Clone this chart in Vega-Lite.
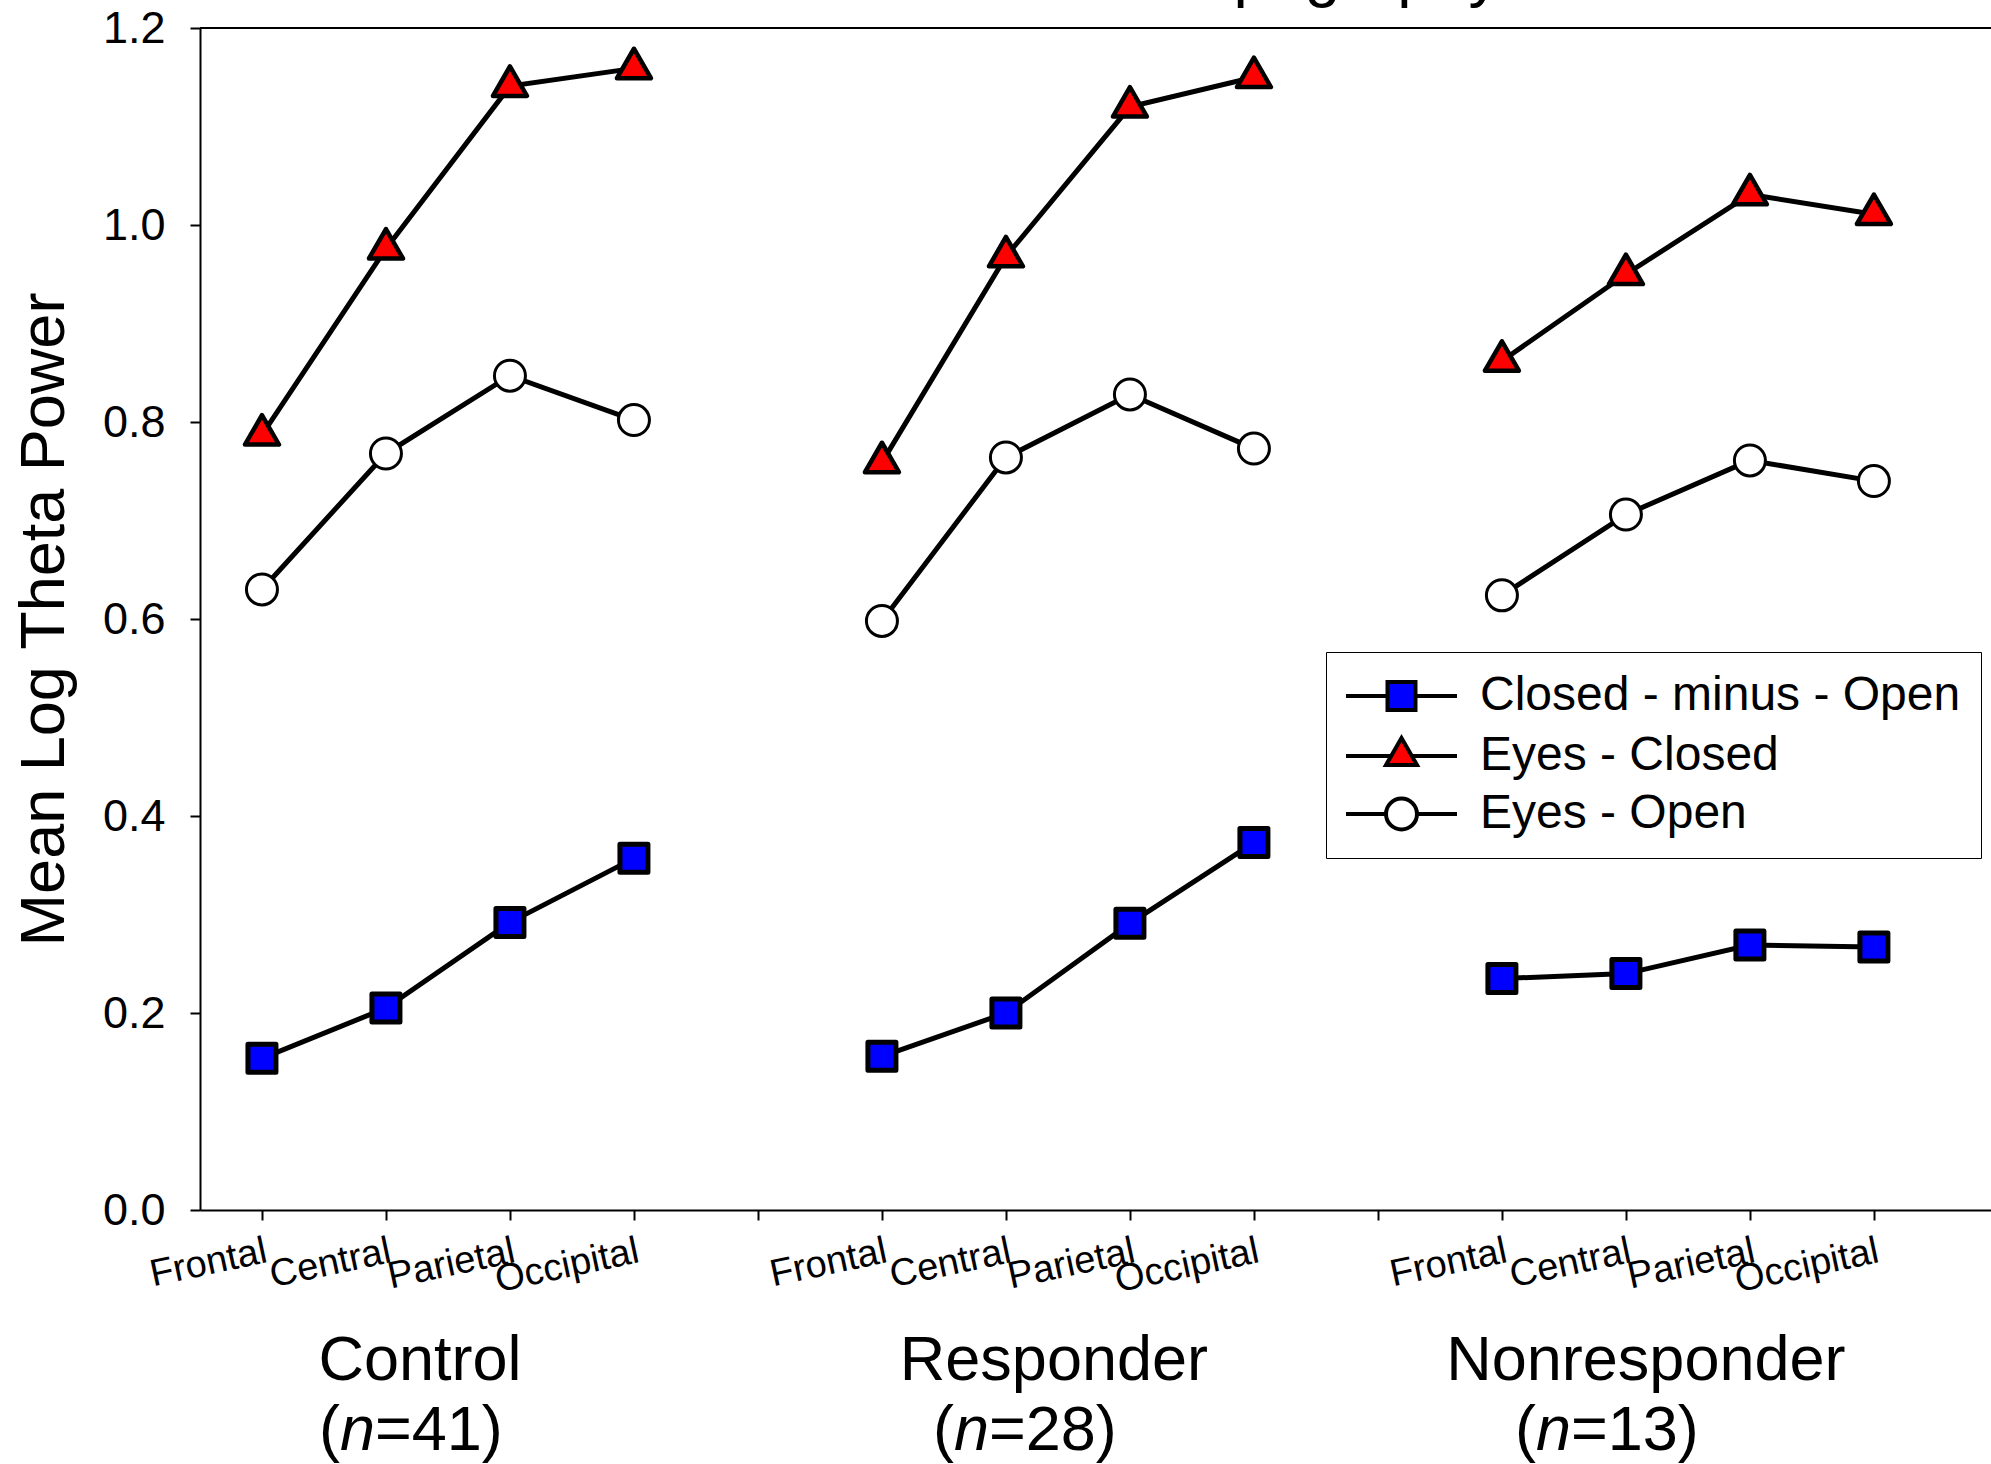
{
  "$schema": "https://vega.github.io/schema/vega-lite/v6.json",
  "width": 1791,
  "height": 1182,
  "autosize": {"type": "none"},
  "padding": {"left": 200, "top": 28, "right": 0, "bottom": 254},
  "background": "white",
  "config": {
    "font": "Liberation Sans",
    "view": {"stroke": null},
    "axis": {
      "domainColor": "black",
      "domainWidth": 2,
      "tickColor": "black",
      "tickWidth": 2,
      "labelColor": "black",
      "titleColor": "black",
      "grid": false,
      "labelFont": "Liberation Sans",
      "titleFont": "Liberation Sans"
    },
    "text": {"color": "black", "font": "Liberation Sans"}
  },
  "datasets": {
    "theta": [
      {"group": "Control", "site": "Frontal", "condition": "Eyes - Closed", "value": 0.787},
      {"group": "Control", "site": "Central", "condition": "Eyes - Closed", "value": 0.976},
      {"group": "Control", "site": "Parietal", "condition": "Eyes - Closed", "value": 1.141},
      {"group": "Control", "site": "Occipital", "condition": "Eyes - Closed", "value": 1.159},
      {"group": "Control", "site": "Frontal", "condition": "Eyes - Open", "value": 0.630},
      {"group": "Control", "site": "Central", "condition": "Eyes - Open", "value": 0.768},
      {"group": "Control", "site": "Parietal", "condition": "Eyes - Open", "value": 0.847},
      {"group": "Control", "site": "Occipital", "condition": "Eyes - Open", "value": 0.802},
      {"group": "Control", "site": "Frontal", "condition": "Closed - minus - Open", "value": 0.154},
      {"group": "Control", "site": "Central", "condition": "Closed - minus - Open", "value": 0.205},
      {"group": "Control", "site": "Parietal", "condition": "Closed - minus - Open", "value": 0.292},
      {"group": "Control", "site": "Occipital", "condition": "Closed - minus - Open", "value": 0.357},
      {"group": "Responder", "site": "Frontal", "condition": "Eyes - Closed", "value": 0.759},
      {"group": "Responder", "site": "Central", "condition": "Eyes - Closed", "value": 0.968},
      {"group": "Responder", "site": "Parietal", "condition": "Eyes - Closed", "value": 1.120},
      {"group": "Responder", "site": "Occipital", "condition": "Eyes - Closed", "value": 1.150},
      {"group": "Responder", "site": "Frontal", "condition": "Eyes - Open", "value": 0.598},
      {"group": "Responder", "site": "Central", "condition": "Eyes - Open", "value": 0.764},
      {"group": "Responder", "site": "Parietal", "condition": "Eyes - Open", "value": 0.828},
      {"group": "Responder", "site": "Occipital", "condition": "Eyes - Open", "value": 0.773},
      {"group": "Responder", "site": "Frontal", "condition": "Closed - minus - Open", "value": 0.156},
      {"group": "Responder", "site": "Central", "condition": "Closed - minus - Open", "value": 0.200},
      {"group": "Responder", "site": "Parietal", "condition": "Closed - minus - Open", "value": 0.291},
      {"group": "Responder", "site": "Occipital", "condition": "Closed - minus - Open", "value": 0.373},
      {"group": "Nonresponder", "site": "Frontal", "condition": "Eyes - Closed", "value": 0.862},
      {"group": "Nonresponder", "site": "Central", "condition": "Eyes - Closed", "value": 0.950},
      {"group": "Nonresponder", "site": "Parietal", "condition": "Eyes - Closed", "value": 1.031},
      {"group": "Nonresponder", "site": "Occipital", "condition": "Eyes - Closed", "value": 1.011},
      {"group": "Nonresponder", "site": "Frontal", "condition": "Eyes - Open", "value": 0.624},
      {"group": "Nonresponder", "site": "Central", "condition": "Eyes - Open", "value": 0.706},
      {"group": "Nonresponder", "site": "Parietal", "condition": "Eyes - Open", "value": 0.761},
      {"group": "Nonresponder", "site": "Occipital", "condition": "Eyes - Open", "value": 0.740},
      {"group": "Nonresponder", "site": "Frontal", "condition": "Closed - minus - Open", "value": 0.235},
      {"group": "Nonresponder", "site": "Central", "condition": "Closed - minus - Open", "value": 0.240},
      {"group": "Nonresponder", "site": "Parietal", "condition": "Closed - minus - Open", "value": 0.269},
      {"group": "Nonresponder", "site": "Occipital", "condition": "Closed - minus - Open", "value": 0.267}
    ],
    "groups": [
      {"group": "Control", "n": 41},
      {"group": "Responder", "n": 28},
      {"group": "Nonresponder", "n": 13}
    ]
  },
  "layer": [
    {
      "data": {"name": "theta"},
      "transform": [
        {"calculate": "datum.group + '|' + datum.site", "as": "key"}
      ],
      "encoding": {
        "x": {
          "field": "key",
          "type": "nominal",
          "scale": {
            "type": "point",
            "domain": [
              "Control|Frontal", "Control|Central", "Control|Parietal", "Control|Occipital", "gap1",
              "Responder|Frontal", "Responder|Central", "Responder|Parietal", "Responder|Occipital", "gap2",
              "Nonresponder|Frontal", "Nonresponder|Central", "Nonresponder|Parietal", "Nonresponder|Occipital"
            ],
            "padding": 0.722,
            "align": 0.346
          },
          "axis": {
            "title": null,
            "orient": "bottom",
            "tickSize": 10,
            "labelAngle": -12,
            "labelAlign": "right",
            "labelBaseline": "top",
            "labelFontSize": 38,
            "labelPadding": 12,
            "labelOverlap": false,
            "labelFlush": false,
            "labelBound": false,
            "labelExpr": "indexof(datum.value, '|') > 0 ? slice(datum.value, indexof(datum.value, '|') + 1) : ''"
          }
        },
        "y": {
          "field": "value",
          "type": "quantitative",
          "scale": {"domain": [0, 1.2], "nice": false, "zero": false},
          "axis": {
            "values": [0, 0.2, 0.4, 0.6, 0.8, 1.0, 1.2],
            "format": ".1f",
            "tickSize": 10,
            "labelFontSize": 45,
            "labelPadding": 25,
            "title": "Mean Log Theta Power",
            "titleFontSize": 63,
            "titleFontWeight": "normal",
            "titleAngle": 270,
            "titleAlign": "center",
            "titleBaseline": "alphabetic",
            "titleX": -137,
            "titleY": 591
          }
        }
      },
      "layer": [
        {
          "mark": {"type": "line", "color": "black", "strokeWidth": 5},
          "encoding": {
            "detail": [{"field": "group"}, {"field": "condition"}],
            "order": {"value": null}
          }
        },
        {
          "transform": [{"filter": "datum.condition === 'Closed - minus - Open'"}],
          "mark": {"type": "point", "shape": "square", "size": 784, "filled": true, "fill": "#0000ff", "stroke": "black", "strokeWidth": 5, "opacity": 1, "strokeJoin": "round"}
        },
        {
          "transform": [{"filter": "datum.condition === 'Eyes - Closed'"}],
          "mark": {"type": "point", "shape": "M0,-1.155L1,0.577L-1,0.577Z", "size": 1156, "filled": true, "fill": "#ff0000", "stroke": "black", "strokeWidth": 4.5, "opacity": 1, "strokeJoin": "round"}
        },
        {
          "transform": [{"filter": "datum.condition === 'Eyes - Open'"}],
          "mark": {"type": "point", "shape": "circle", "size": 961, "filled": true, "fill": "#ffffff", "stroke": "black", "strokeWidth": 3, "opacity": 1}
        },
        {
          "transform": [{"filter": "false"}],
          "mark": {"type": "point", "filled": true, "strokeWidth": 4, "opacity": 1},
          "encoding": {
            "shape": {
              "field": "condition",
              "type": "nominal",
              "scale": {
                "domain": ["Closed - minus - Open", "Eyes - Closed", "Eyes - Open"],
                "range": [
                  "M-3.7,0H-0.933M0.933,0H3.7M-0.933,-0.933H0.933V0.933H-0.933Z",
                  "M-3.7,0H-0.689M0.689,0H3.7M0,-1.193L1.033,0.597L-1.033,0.597Z",
                  "M-3.7,0H-1.033M1.033,0H3.7M1.033,0C1.033,0.57 0.57,1.033 0,1.033C-0.57,1.033 -1.033,0.57 -1.033,0C-1.033,-0.57 -0.57,-1.033 0,-1.033C0.57,-1.033 1.033,-0.57 1.033,0Z"
                ]
              },
              "legend": {
                "orient": "none",
                "legendX": 1126,
                "legendY": 624,
                "title": null,
                "padding": 20,
                "strokeColor": "black",
                "fillColor": "white",
                "labelFont": "Liberation Sans",
                "labelFontSize": 48,
                "labelColor": "black",
                "labelOffset": 54.5,
                "labelLimit": 0,
                "symbolSize": 900,
                "symbolOffset": 31.5,
                "symbolStrokeWidth": 4,
                "symbolOpacity": 1,
                "rowPadding": 10
              }
            },
            "fill": {
              "field": "condition",
              "type": "nominal",
              "scale": {
                "domain": ["Closed - minus - Open", "Eyes - Closed", "Eyes - Open"],
                "range": ["#0000ff", "#ff0000", "#ffffff"]
              },
              "legend": {
                "orient": "none",
                "legendX": 1126,
                "legendY": 624,
                "title": null,
                "padding": 20,
                "strokeColor": "black",
                "fillColor": "white",
                "labelFont": "Liberation Sans",
                "labelFontSize": 48,
                "labelColor": "black",
                "labelOffset": 54.5,
                "labelLimit": 0,
                "symbolSize": 900,
                "symbolOffset": 31.5,
                "symbolStrokeWidth": 4,
                "symbolOpacity": 1,
                "rowPadding": 10
              }
            },
            "stroke": {
              "field": "condition",
              "type": "nominal",
              "scale": {
                "domain": ["Closed - minus - Open", "Eyes - Closed", "Eyes - Open"],
                "range": ["#000000", "#000000", "#000000"]
              },
              "legend": {
                "orient": "none",
                "legendX": 1126,
                "legendY": 624,
                "title": null,
                "padding": 20,
                "strokeColor": "black",
                "fillColor": "white",
                "labelFont": "Liberation Sans",
                "labelFontSize": 48,
                "labelColor": "black",
                "labelOffset": 54.5,
                "labelLimit": 0,
                "symbolSize": 900,
                "symbolOffset": 31.5,
                "symbolStrokeWidth": 4,
                "symbolOpacity": 1,
                "rowPadding": 10
              }
            }
          }
        }
      ]
    },
    {
      "data": {"values": [{"edge": "top"}]},
      "mark": {"type": "rule", "color": "black", "strokeWidth": 2},
      "encoding": {
        "y": {
          "datum": 1.2,
          "type": "quantitative",
          "scale": {"domain": [0, 1.2], "nice": false, "zero": false},
          "axis": {
            "values": [0, 0.2, 0.4, 0.6, 0.8, 1.0, 1.2],
            "format": ".1f",
            "tickSize": 10,
            "labelFontSize": 45,
            "labelPadding": 25,
            "title": "Mean Log Theta Power",
            "titleFontSize": 63,
            "titleFontWeight": "normal",
            "titleAngle": 270,
            "titleAlign": "center",
            "titleBaseline": "alphabetic",
            "titleX": -137,
            "titleY": 591
          }
        }
      }
    },
    {
      "data": {"name": "groups"},
      "transform": [
        {"calculate": "datum.group + '|Central'", "as": "key"},
        {"calculate": "'=' + datum.n + ')'", "as": "countText"}
      ],
      "encoding": {
        "x": {
          "field": "key",
          "type": "nominal",
          "scale": {
            "type": "point",
            "domain": [
              "Control|Frontal", "Control|Central", "Control|Parietal", "Control|Occipital", "gap1",
              "Responder|Frontal", "Responder|Central", "Responder|Parietal", "Responder|Occipital", "gap2",
              "Nonresponder|Frontal", "Nonresponder|Central", "Nonresponder|Parietal", "Nonresponder|Occipital"
            ],
            "padding": 0.722,
            "align": 0.346
          },
          "axis": {
            "title": null,
            "orient": "bottom",
            "tickSize": 10,
            "labelAngle": -12,
            "labelAlign": "right",
            "labelBaseline": "top",
            "labelFontSize": 38,
            "labelPadding": 12,
            "labelOverlap": false,
            "labelFlush": false,
            "labelBound": false,
            "labelExpr": "indexof(datum.value, '|') > 0 ? slice(datum.value, indexof(datum.value, '|') + 1) : ''"
          }
        }
      },
      "layer": [
        {
          "encoding": {
            "y": {
              "datum": -0.1726,
              "type": "quantitative",
              "scale": {"domain": [0, 1.2], "nice": false, "zero": false},
              "axis": {
                "values": [0, 0.2, 0.4, 0.6, 0.8, 1.0, 1.2],
                "format": ".1f",
                "tickSize": 10,
                "labelFontSize": 45,
                "labelPadding": 25,
                "title": "Mean Log Theta Power",
                "titleFontSize": 63,
                "titleFontWeight": "normal",
                "titleAngle": 270,
                "titleAlign": "center",
                "titleBaseline": "alphabetic",
                "titleX": -137,
                "titleY": 591
              }
            },
            "text": {"field": "group"}
          },
          "layer": [
            {
              "transform": [{"filter": "datum.group === 'Control'"}],
              "mark": {"type": "text", "fontSize": 63, "align": "center", "baseline": "alphabetic", "dx": 34}
            },
            {
              "transform": [{"filter": "datum.group === 'Responder'"}],
              "mark": {"type": "text", "fontSize": 63, "align": "center", "baseline": "alphabetic", "dx": 48}
            },
            {
              "transform": [{"filter": "datum.group === 'Nonresponder'"}],
              "mark": {"type": "text", "fontSize": 63, "align": "center", "baseline": "alphabetic", "dx": 20}
            }
          ]
        },
        {
          "encoding": {
            "y": {
              "datum": -0.2437,
              "type": "quantitative",
              "scale": {"domain": [0, 1.2], "nice": false, "zero": false},
              "axis": {
                "values": [0, 0.2, 0.4, 0.6, 0.8, 1.0, 1.2],
                "format": ".1f",
                "tickSize": 10,
                "labelFontSize": 45,
                "labelPadding": 25,
                "title": "Mean Log Theta Power",
                "titleFontSize": 63,
                "titleFontWeight": "normal",
                "titleAngle": 270,
                "titleAlign": "center",
                "titleBaseline": "alphabetic",
                "titleX": -137,
                "titleY": 591
              }
            }
          },
          "layer": [
            {
              "transform": [{"filter": "datum.group === 'Control'"}],
              "mark": {"type": "text", "fontSize": 63, "align": "left", "baseline": "alphabetic", "dx": -67},
              "encoding": {"text": {"value": "("}}
            },
            {
              "transform": [{"filter": "datum.group === 'Control'"}],
              "mark": {"type": "text", "fontSize": 63, "fontStyle": "italic", "align": "left", "baseline": "alphabetic", "dx": -46},
              "encoding": {"text": {"value": "n"}}
            },
            {
              "transform": [{"filter": "datum.group === 'Control'"}],
              "mark": {"type": "text", "fontSize": 63, "align": "left", "baseline": "alphabetic", "dx": -11},
              "encoding": {"text": {"field": "countText"}}
            },
            {
              "transform": [{"filter": "datum.group === 'Responder'"}],
              "mark": {"type": "text", "fontSize": 63, "align": "left", "baseline": "alphabetic", "dx": -73},
              "encoding": {"text": {"value": "("}}
            },
            {
              "transform": [{"filter": "datum.group === 'Responder'"}],
              "mark": {"type": "text", "fontSize": 63, "fontStyle": "italic", "align": "left", "baseline": "alphabetic", "dx": -52},
              "encoding": {"text": {"value": "n"}}
            },
            {
              "transform": [{"filter": "datum.group === 'Responder'"}],
              "mark": {"type": "text", "fontSize": 63, "align": "left", "baseline": "alphabetic", "dx": -17},
              "encoding": {"text": {"field": "countText"}}
            },
            {
              "transform": [{"filter": "datum.group === 'Nonresponder'"}],
              "mark": {"type": "text", "fontSize": 63, "align": "left", "baseline": "alphabetic", "dx": -111},
              "encoding": {"text": {"value": "("}}
            },
            {
              "transform": [{"filter": "datum.group === 'Nonresponder'"}],
              "mark": {"type": "text", "fontSize": 63, "fontStyle": "italic", "align": "left", "baseline": "alphabetic", "dx": -90},
              "encoding": {"text": {"value": "n"}}
            },
            {
              "transform": [{"filter": "datum.group === 'Nonresponder'"}],
              "mark": {"type": "text", "fontSize": 63, "align": "left", "baseline": "alphabetic", "dx": -55},
              "encoding": {"text": {"field": "countText"}}
            }
          ]
        }
      ]
    },
    {
      "data": {"values": [{"heading": "Topography"}]},
      "mark": {"type": "text", "fontSize": 64, "align": "left", "baseline": "alphabetic", "dx": 160},
      "encoding": {
        "x": {
          "datum": "Responder|Central",
          "type": "nominal",
          "scale": {
            "type": "point",
            "domain": [
              "Control|Frontal", "Control|Central", "Control|Parietal", "Control|Occipital", "gap1",
              "Responder|Frontal", "Responder|Central", "Responder|Parietal", "Responder|Occipital", "gap2",
              "Nonresponder|Frontal", "Nonresponder|Central", "Nonresponder|Parietal", "Nonresponder|Occipital"
            ],
            "padding": 0.722,
            "align": 0.346
          },
          "axis": {
            "title": null,
            "orient": "bottom",
            "tickSize": 10,
            "labelAngle": -12,
            "labelAlign": "right",
            "labelBaseline": "top",
            "labelFontSize": 38,
            "labelPadding": 12,
            "labelOverlap": false,
            "labelFlush": false,
            "labelBound": false,
            "labelExpr": "indexof(datum.value, '|') > 0 ? slice(datum.value, indexof(datum.value, '|') + 1) : ''"
          }
        },
        "y": {
          "datum": 1.2335,
          "type": "quantitative",
          "scale": {"domain": [0, 1.2], "nice": false, "zero": false},
          "axis": {
            "values": [0, 0.2, 0.4, 0.6, 0.8, 1.0, 1.2],
            "format": ".1f",
            "tickSize": 10,
            "labelFontSize": 45,
            "labelPadding": 25,
            "title": "Mean Log Theta Power",
            "titleFontSize": 63,
            "titleFontWeight": "normal",
            "titleAngle": 270,
            "titleAlign": "center",
            "titleBaseline": "alphabetic",
            "titleX": -137,
            "titleY": 591
          }
        },
        "text": {"field": "heading"}
      }
    }
  ]
}
